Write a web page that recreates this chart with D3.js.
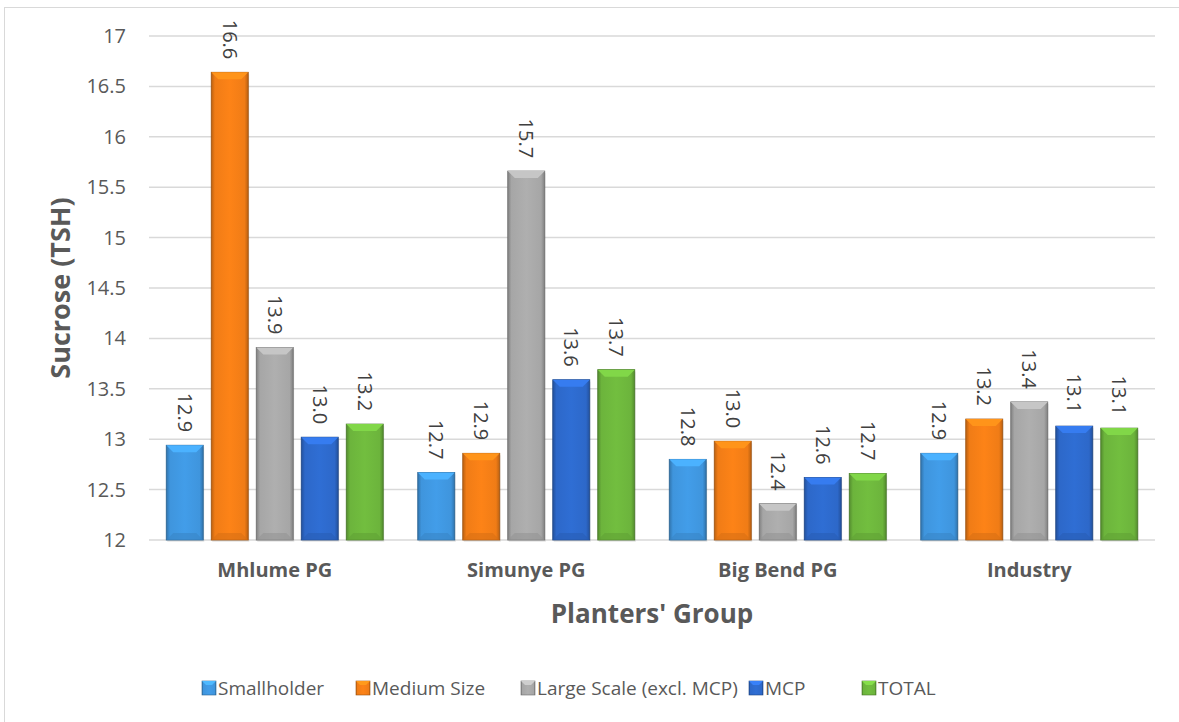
<!DOCTYPE html>
<html>
<head>
<meta charset="utf-8">
<script src="https://cdn.jsdelivr.net/npm/d3@7"></script>
<style>
  body { margin: 0; background: #fff; }
  text { font-family: "Open Sans", "DejaVu Sans", sans-serif; }
</style>
</head>
<body>
<div id="wrapper"></div>
<script>
const groups = ["Mhlume PG", "Simunye PG", "Big Bend PG", "Industry"];
const seriesNames = ["Smallholder", "Medium Size", "Large Scale (excl. MCP)", "MCP", "TOTAL"];
const smallholder = [12.94, 12.67, 12.80, 12.86];
const mediumSize = [16.64, 12.86, 12.98, 13.20];
const largeScale = [13.91, 15.66, 12.36, 13.37];
const mcp = [13.02, 13.59, 12.62, 13.13];
const total = [13.15, 13.69, 12.66, 13.11];
const yTicks = [12, 12.5, 13, 13.5, 14, 14.5, 15, 15.5, 16, 16.5, 17];

const seriesValues = [smallholder, mediumSize, largeScale, mcp, total];
const colors = ["#3f95dd", "#f07c16", "#a6a6a6", "#2d68c9", "#6cb43c"];

let dimensions = {
    width: 1179,
    height: 722,
    margin: { top: 36, left: 149, bottom: 182, right: 24 }
}
dimensions.boundedWidth = dimensions.width - dimensions.margin.left - dimensions.margin.right;
dimensions.boundedHeight = dimensions.height - dimensions.margin.top - dimensions.margin.bottom;

const wrapper = d3.select("#wrapper").append("svg")
    .attr("width", dimensions.width)
    .attr("height", dimensions.height);

// outer chart frame
wrapper.append("rect")
    .attr("x", 4.5).attr("y", 7.5)
    .attr("width", dimensions.width + 10).attr("height", dimensions.height + 10)
    .attr("fill", "none").attr("stroke", "#d9d9d9");

const defs = wrapper.append("defs");
colors.forEach((c, i) => {
    const g = defs.append("linearGradient").attr("id", "grad" + i)
        .attr("x1", 0).attr("x2", 1).attr("y1", 0).attr("y2", 0);
    const dark = d3.color(c).darker(0.7);
    const light = d3.color(c).brighter(0.15);
    g.append("stop").attr("offset", "0%").attr("stop-color", dark);
    g.append("stop").attr("offset", "10%").attr("stop-color", c);
    g.append("stop").attr("offset", "50%").attr("stop-color", light);
    g.append("stop").attr("offset", "90%").attr("stop-color", c);
    g.append("stop").attr("offset", "100%").attr("stop-color", dark);
});

const container = wrapper.append("g")
    .attr("transform", `translate(${dimensions.margin.left}, ${dimensions.margin.top})`);

const yScaler = d3.scaleLinear()
    .domain([12, 17])
    .range([dimensions.boundedHeight, 0]);

const xScaler = d3.scaleBand()
    .domain(groups)
    .range([0, dimensions.boundedWidth]);

const innerScaler = d3.scaleBand()
    .domain(seriesNames)
    .range([xScaler.bandwidth() / 2 - 108.5, xScaler.bandwidth() / 2 + 108.5])
    .paddingInner(8 / 45);

// gridlines
container.append("g").selectAll("line")
    .data(yTicks)
    .enter()
    .append("line")
    .attr("x1", 0).attr("x2", dimensions.boundedWidth)
    .attr("y1", d => yScaler(d)).attr("y2", d => yScaler(d))
    .attr("stroke", "#d9d9d9").attr("stroke-width", 1.5);

// y axis labels
const yAxisGen = d3.axisLeft(yScaler).tickValues(yTicks).tickSize(0).tickPadding(23)
    .tickFormat(d3.format("~g"));
const axisY = container.append("g").call(yAxisGen);
axisY.select(".domain").remove();
axisY.selectAll("text")
    .style("font-family", "'Open Sans', sans-serif")
    .style("font-size", "20px")
    .attr("fill", "#595959");

// x axis labels
const xAxisGen = d3.axisBottom(xScaler).tickSize(0).tickPadding(23);
const axisX = container.append("g")
    .attr("transform", `translate(0, ${dimensions.boundedHeight})`)
    .call(xAxisGen);
axisX.select(".domain").remove();
axisX.selectAll("text")
    .style("font-family", "'Open Sans', sans-serif")
    .style("font-size", "20px")
    .style("font-weight", "bold")
    .attr("fill", "#595959");

const flat = [];
groups.forEach((g, gi) => {
    seriesNames.forEach((s, si) => {
        flat.push({ group: g, series: s, si: si, value: seriesValues[si][gi] });
    });
});

const bars = container.append("g").selectAll("g")
    .data(flat)
    .enter()
    .append("g")
    .attr("transform", d => `translate(${xScaler(d.group) + innerScaler(d.series)}, 0)`);

const bw = innerScaler.bandwidth();

// bar shadow
bars.append("rect")
    .attr("x", 1).attr("y", d => yScaler(d.value) + 2)
    .attr("width", bw).attr("height", d => dimensions.boundedHeight - yScaler(d.value))
    .attr("fill", "#000").attr("opacity", 0.08);

bars.append("rect")
    .attr("x", 0).attr("y", d => yScaler(d.value))
    .attr("width", bw).attr("height", d => dimensions.boundedHeight - yScaler(d.value))
    .attr("fill", d => `url(#grad${d.si})`)
    .attr("stroke", d => d3.color(colors[d.si]).darker(1.2))
    .attr("stroke-width", 0.8);

// top bevel
bars.append("path")
    .attr("d", d => {
        const t = yScaler(d.value);
        return `M0,${t} L${bw},${t} L${bw - 7},${t + 7} L7,${t + 7} Z`;
    })
    .attr("fill", d => d3.color(colors[d.si]).brighter(0.5));

// bottom bevel
bars.append("path")
    .attr("d", d => {
        const b = dimensions.boundedHeight;
        return `M0,${b} L${bw},${b} L${bw - 7},${b - 7} L7,${b - 7} Z`;
    })
    .attr("fill", d => d3.color(colors[d.si]).darker(0.3))
    .attr("opacity", 0.6);

// value labels
bars.append("text")
    .attr("transform", d => `translate(${bw / 2}, ${yScaler(d.value) - 13}) rotate(90)`)
    .attr("text-anchor", "end")
    .attr("dy", "0.35em")
    .style("font-size", "20px")
    .attr("fill", "#404040")
    .text(d => d.value.toFixed(1));

// axis titles
wrapper.append("text")
    .attr("transform", `translate(70, ${dimensions.margin.top + dimensions.boundedHeight / 2}) rotate(-90)`)
    .attr("text-anchor", "middle")
    .style("font-size", "27px")
    .style("font-weight", "bold")
    .attr("fill", "#595959")
    .text("Sucrose (TSH)");

wrapper.append("text")
    .attr("x", dimensions.margin.left + dimensions.boundedWidth / 2)
    .attr("y", 623)
    .attr("text-anchor", "middle")
    .style("font-size", "26px")
    .style("font-weight", "bold")
    .attr("fill", "#595959")
    .text("Planters' Group");

// legend
const legendX = [202, 356, 521, 749, 862];
const legend = wrapper.append("g").selectAll("g")
    .data(seriesNames)
    .enter()
    .append("g")
    .attr("transform", (d, i) => `translate(${legendX[i]}, 681)`);
legend.append("rect")
    .attr("width", 14).attr("height", 14)
    .attr("fill", (d, i) => `url(#grad${i})`)
    .attr("stroke", (d, i) => d3.color(colors[i]).darker(1.2))
    .attr("stroke-width", 0.6);
legend.append("path")
    .attr("d", "M0,0 L14,0 L10,4 L4,4 Z")
    .attr("fill", (d, i) => d3.color(colors[i]).brighter(0.6));
legend.append("text")
    .attr("x", 16).attr("y", 7)
    .attr("dy", "0.35em")
    .style("font-size", "19px")
    .attr("fill", "#595959")
    .text(d => d);
</script>
</body>
</html>
